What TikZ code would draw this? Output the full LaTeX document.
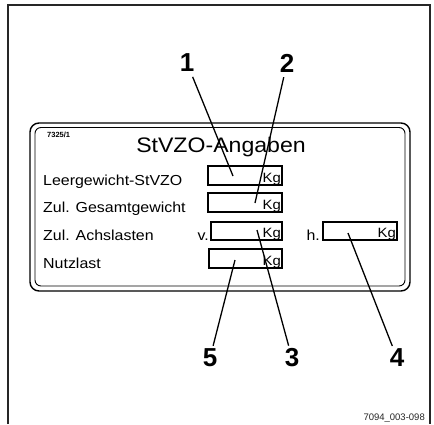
\documentclass[tikz,border=0pt]{standalone}
\usepackage{fontspec}
\setmainfont{Liberation Sans}
\newfontfamily\platefont[FakeStretch=1.1]{Liberation Sans}
\begin{document}
\begin{tikzpicture}[x=1pt,y=-1pt,
  frame/.style={line width=2pt, draw=black!85},
  plateline/.style={line width=1.1pt},
  fieldbox/.style={draw, line width=1.1pt, minimum height=19pt, inner sep=0pt},
  unit/.style={font=\platefont\fontsize{13.5}{15}\selectfont, inner sep=0pt, anchor=base east},
  lbl/.style={font=\platefont\fontsize{14.5}{16}\selectfont, inner sep=0pt, anchor=base west},
  num/.style={font=\fontsize{26}{28}\selectfont\bfseries, inner sep=1pt},
  leader/.style={line width=1.3pt}
]
\useasboundingbox (0,0) rectangle (434,424);
% outer frame (open at the bottom edge)
\draw[frame] (8,424) -- (8,5) -- (430,5) -- (430,424);
% plate
\draw[plateline, line width=1.4pt, rounded corners=9pt] (30,123) rectangle (410,291);
\draw[plateline, line width=0.9pt, rounded corners=6pt] (35,127.5) rectangle (405,286);
\node[font=\fontsize{7.5}{8}\selectfont\bfseries, inner sep=0pt, anchor=base west] (code) at (47,137) {7325/1};
\node[font=\platefont\fontsize{21}{24}\selectfont, inner sep=0pt, anchor=base] (title) at (221,152) {StVZO-Angaben};
% labels
\node[lbl] (l1) at (43,185) {Leergewicht-StVZO};
\node[lbl] (l2) at (43,212) {Zul. Gesamtgewicht};
\node[lbl] (l3) at (43,240) {Zul. Achslasten};
\node[lbl] (l4) at (43,268) {Nutzlast};
\node[lbl, anchor=base east] (lv) at (209,240) {v.};
\node[lbl, anchor=base east] (lh) at (320,240) {h.};
% boxes
\node[fieldbox, minimum width=74pt] (b1) at (245,175.5) {};
\node[fieldbox, minimum width=74pt] (b2) at (245,202.5) {};
\node[fieldbox, minimum width=71pt, minimum height=18pt] (b3) at (246.5,231) {};
\node[fieldbox, minimum width=74pt, minimum height=18pt] (b4) at (360,231) {};
\node[fieldbox, minimum width=73pt] (b5) at (245.5,258.5) {};
\foreach \b in {b1,b2,b3,b4,b5}{
  \node[unit] (k\b) at ([xshift=-1.5pt,yshift=3pt]\b.south east) {Kg};
}
% leader end points
\coordinate (e1) at (233,176);
\coordinate (e2) at (255,203);
\coordinate (e3) at (257,230);
\coordinate (e4) at (348,233);
\coordinate (e5) at (235,260);
% numbers
\node[num] (n1) at (187,63) {1};
\node[num] (n2) at (287,63) {2};
\node[num] (n3) at (292,358) {3};
\node[num] (n4) at (397,358) {4};
\node[num] (n5) at (210,358) {5};
\draw[leader, shorten <=4pt] (n1) -- (e1);
\draw[leader, shorten <=4pt] (n2) -- (e2);
\draw[leader, shorten >=2pt] (e3) -- (n3);
\draw[leader, shorten >=2pt] (e4) -- (n4);
\draw[leader, shorten >=2pt] (e5) -- (n5);
% footer
\node[font=\fontsize{9.5}{11}\selectfont, text=black!85, inner sep=0pt, anchor=base east] (foot) at (425,420) {7094\_003-098};
\end{tikzpicture}
\end{document}
